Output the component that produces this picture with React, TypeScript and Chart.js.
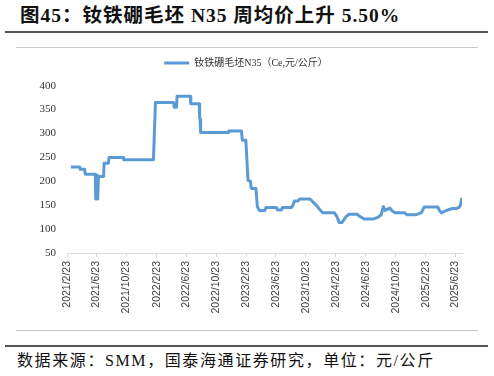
import React, { useEffect, useRef } from "react";
import { Chart, registerables } from "chart.js";

Chart.register(...registerables);

const titleText = "图45：钕铁硼毛坯 N35 周均价上升 5.50%";
const footerText = "数据来源：SMM，国泰海通证券研究，单位：元/公斤";
const seriesName = "钕铁硼毛坯N35（Ce,元/公斤）";

const axisStart = "2021-02-23";
const axisEnd = "2025-07-20";

const tickDates = [
  "2021-02-23", "2021-06-23", "2021-10-23", "2022-02-23", "2022-06-23",
  "2022-10-23", "2023-02-23", "2023-06-23", "2023-10-23", "2024-02-23",
  "2024-06-23", "2024-10-23", "2025-02-23", "2025-06-23",
];
const tickLabels = [
  "2021/2/23", "2021/6/23", "2021/10/23", "2022/2/23", "2022/6/23",
  "2022/10/23", "2023/2/23", "2023/6/23", "2023/10/23", "2024/2/23",
  "2024/6/23", "2024/10/23", "2025/2/23", "2025/6/23",
];

const priceDates = [
  "2021-03-11", "2021-04-16", "2021-04-18", "2021-05-06", "2021-05-08", "2021-06-18",
  "2021-06-19", "2021-06-21", "2021-06-22", "2021-06-23", "2021-06-24", "2021-06-26",
  "2021-06-27", "2021-06-28", "2021-06-29", "2021-07-01", "2021-07-22", "2021-07-24",
  "2021-08-11", "2021-08-13", "2021-10-10", "2021-10-12", "2022-02-10", "2022-02-13",
  "2022-02-15", "2022-02-18", "2022-05-03", "2022-05-05", "2022-05-15", "2022-05-17",
  "2022-07-10", "2022-07-12", "2022-08-15", "2022-08-17", "2022-08-19", "2022-08-21",
  "2022-12-11", "2022-12-13", "2023-02-03", "2023-02-07", "2023-02-21", "2023-03-02",
  "2023-03-12", "2023-03-15", "2023-04-03", "2023-04-09", "2023-04-17", "2023-05-09",
  "2023-05-14", "2023-06-26", "2023-06-30", "2023-07-16", "2023-07-20", "2023-08-25",
  "2023-09-01", "2023-09-07", "2023-09-21", "2023-09-28", "2023-11-09", "2023-11-21",
  "2023-12-08", "2023-12-22", "2024-01-01", "2024-02-17", "2024-02-27", "2024-03-07",
  "2024-03-19", "2024-04-04", "2024-04-16", "2024-05-18", "2024-06-04", "2024-06-17",
  "2024-07-23", "2024-08-13", "2024-08-25", "2024-09-03", "2024-09-10", "2024-09-29",
  "2024-10-09", "2024-10-21", "2024-11-27", "2024-12-09", "2025-01-15", "2025-01-27",
  "2025-02-04", "2025-02-16", "2025-04-13", "2025-04-19", "2025-04-27", "2025-05-13",
  "2025-05-29", "2025-06-11", "2025-06-27", "2025-07-09", "2025-07-15", "2025-07-19",
];
const priceValues = [
  230, 230, 225, 225, 215, 215,
  163, 212, 163, 212, 163, 212,
  163, 212, 163, 210, 210, 238,
  238, 250, 250, 245, 245, 290,
  290, 365, 365, 355, 355, 378,
  378, 362, 362, 332, 330, 302,
  302, 305, 305, 286, 286, 202,
  200, 185, 185, 147, 139, 139,
  145, 145, 140, 140, 145, 145,
  150, 159, 159, 163, 163, 157,
  148, 139, 134, 134, 126, 114,
  114, 126, 131, 131, 125, 121,
  121, 125, 130, 147, 139, 144,
  138, 134, 134, 130, 130, 133,
  134, 146, 146, 139, 134, 138,
  141, 143, 143, 146, 152, 165,
];

const yMin = 50;
const yMax = 400;
const yStep = 50;

const dayIndex = (s: string) => {
  const [y, m, d] = s.split("-").map(Number);
  const [y0, m0, d0] = axisStart.split("-").map(Number);
  return Math.round((Date.UTC(y, m - 1, d) - Date.UTC(y0, m0 - 1, d0)) / 86400000);
};

const latinCjk = "'Liberation Serif', 'Noto Sans CJK SC', serif";

export default function App() {
  const ref = useRef<HTMLCanvasElement>(null);

  useEffect(() => {
    if (!ref.current) return;
    const points = priceDates.map((d, i) => ({ x: dayIndex(d), y: priceValues[i] }));
    const chart = new Chart(ref.current, {
      type: "line",
      data: {
        datasets: [
          {
            label: seriesName,
            data: points,
            borderColor: "#5B9BD5",
            backgroundColor: "#5B9BD5",
            borderWidth: 3,
            pointRadius: 0,
            tension: 0,
            fill: false,
            borderJoinStyle: "round",
          },
        ],
      },
      options: {
        responsive: false,
        animation: false,
        devicePixelRatio: 1,
        layout: { padding: { left: 30, right: 32, top: 0, bottom: 0 } },
        plugins: {
          tooltip: { enabled: false },
          legend: {
            display: true,
            position: "top",
            labels: {
              usePointStyle: true,
              pointStyle: "line",
              pointStyleWidth: 25,
              padding: 8,
              color: "#333",
              font: { size: 10, family: latinCjk },
            },
          },
          title: {
            display: true,
            text: "",
            weight: 0,
            padding: { top: 0, bottom: 6.7 },
            font: { size: 1, lineHeight: 1 },
          } as any,
        },
        scales: {
          x: {
            type: "linear",
            min: 0,
            max: dayIndex(axisEnd),
            afterBuildTicks: (scale: any) => {
              scale.ticks = tickDates.map((d) => ({ value: dayIndex(d) }));
            },
            afterFit: (scale: any) => {
              scale.height = 77;
            },
            grid: {
              drawOnChartArea: false,
              drawTicks: true,
              tickLength: 4,
              color: "#d9d9d9",
            },
            border: { display: true, color: "#d9d9d9", width: 1 },
            ticks: {
              autoSkip: false,
              minRotation: 90,
              maxRotation: 90,
              padding: 4,
              color: "#404040",
              font: { size: 10.5, family: "'Liberation Sans', Arial, sans-serif" },
              callback: (_v: any, i: number) => tickLabels[i],
            },
          },
          y: {
            min: yMin,
            max: yMax,
            afterFit: (scale: any) => {
              scale.width = 37;
            },
            grid: { display: false, drawTicks: false },
            border: { display: false },
            ticks: {
              stepSize: yStep,
              padding: 11,
              color: "#333",
              font: { size: 11, family: "'Liberation Serif', serif" },
            },
          },
        },
      },
    });
    return () => chart.destroy();
  }, []);

  return (
    <div
      style={{
        position: "fixed",
        left: 0,
        top: 0,
        width: 494,
        height: 376,
        background: "#fff",
        overflow: "hidden",
      }}
    >
      <div
        style={{
          position: "absolute",
          left: 20,
          top: 3,
          fontSize: 19.5,
          letterSpacing: 1,
          fontWeight: "bold",
          fontFamily: latinCjk,
          lineHeight: "26px",
          whiteSpace: "nowrap",
          color: "#111",
        }}
      >
        {titleText}
      </div>
      <div style={{ position: "absolute", left: 5, top: 31, width: 483, height: 2, background: "#555" }} />
      <div style={{ position: "absolute", left: 16, top: 47, width: 462, height: 1, background: "#c8c8c8" }} />
      <canvas
        ref={ref}
        width={494}
        height={280}
        style={{ position: "absolute", left: 0, top: 50, width: 494, height: 280 }}
      />
      <div style={{ position: "absolute", left: 16, top: 330, width: 462, height: 1, background: "#c8c8c8" }} />
      <div style={{ position: "absolute", left: 5, top: 345, width: 483, height: 2, background: "#555" }} />
      <div
        style={{
          position: "absolute",
          left: 17,
          top: 350,
          fontSize: 16,
          letterSpacing: 1.6,
          fontFamily: latinCjk,
          lineHeight: "21px",
          whiteSpace: "nowrap",
          color: "#111",
        }}
      >
        {footerText}
      </div>
    </div>
  );
}
